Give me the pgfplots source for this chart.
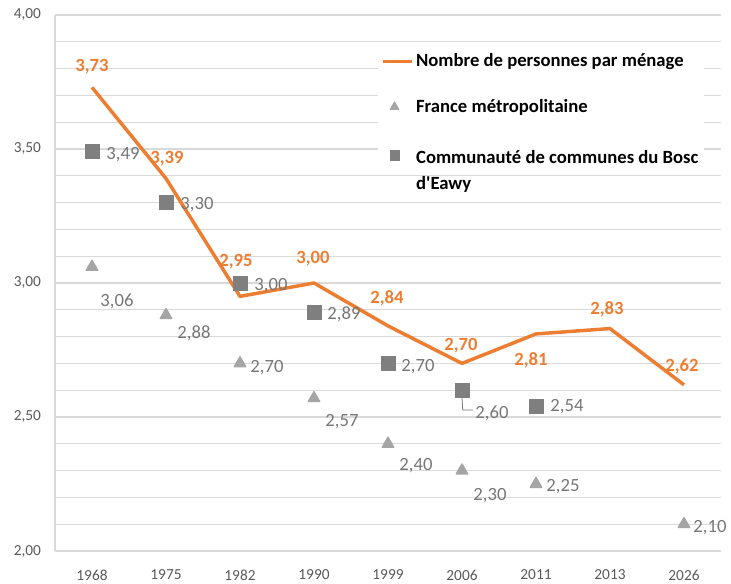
\documentclass[border=0pt]{standalone}
\usepackage{pgfplots}
\usepackage{pgfplotstable}
\pgfplotsset{compat=1.18}
\usepackage{fontspec}
\setmainfont{Carlito}[Ligatures=TeXOff]
\definecolor{orangeL}{HTML}{ED7D31}
\definecolor{sqGray}{HTML}{7F7F7F}
\definecolor{triGray}{HTML}{A5A5A5}
\definecolor{lblGray}{HTML}{767676}
\definecolor{tickc}{HTML}{595959}
\definecolor{gridc}{HTML}{D9D9D9}

\pgfplotstableread{
x y dx dy
0 3.73 0 21
1 3.39 1 20
2 2.95 -4 35
3 3.00 -1 24
4 2.84 -1 28
5 2.70 -1 18
6 2.81 -5 -26
7 2.83 -3 19
8 2.62 -2 18
}\menage

\pgfplotstableread{
x y dx dy
0 3.06 25 -34
1 2.88 28 -18
2 2.70 27 -4
3 2.57 28 -23
4 2.40 28 -22
5 2.30 28 -25
6 2.25 27 -3
8 2.10 26 -3
}\france

\pgfplotstableread{
x y dx dy
0 3.49 31 -3
1 3.30 31 -2
2 3.00 31 -3
3 2.89 30 -2
4 2.70 30 -3
5 2.60 30 -23
6 2.54 31 0
}\ccbe

\begin{document}
\begin{tikzpicture}
\useasboundingbox (0,0) rectangle (548.25pt,437.25pt);
\begin{axis}[
  at={(41.25pt,24pt)}, anchor=south west,
  scale only axis, width=499.5pt, height=402pt,
  xmin=-0.5, xmax=8.5, ymin=2, ymax=4,
  xtick={0,1,2,3,4,5,6,7,8},
  xticklabels={1968,1975,1982,1990,1999,2006,2011,2013,2026},
  ytick={2,2.5,3,3.5,4},
  minor ytick={2.1,2.2,2.3,2.4,2.6,2.7,2.8,2.9,3.1,3.2,3.3,3.4,3.6,3.7,3.8,3.9},
  ymajorgrids, yminorgrids,
  major grid style={draw=gridc, line width=0.8pt},
  minor grid style={draw=gridc, line width=0.8pt},
  axis x line*=bottom, axis y line*=left,
  axis line style={draw=gridc, line width=0.8pt, -},
  major tick length=0pt, minor tick length=0pt,
  tick style={draw=none},
  ticklabel style={font=\fontsize{11.5}{13}\selectfont, text=tickc},
  xticklabel style={yshift=-10.5pt},
  yticklabel style={xshift=-7pt},
  /pgf/number format/fixed,
  /pgf/number format/fixed zerofill,
  /pgf/number format/precision=2,
  /pgf/number format/use comma,
  /pgf/number format/assume math mode=true,
  legend style={at={(axis description cs:0.485,0.9384)}, anchor=north west,
    fill=white, draw=none, font=\bfseries\fontsize{14}{19.5}\selectfont,
    row sep=19pt, inner sep=2pt, column sep=0pt},
  legend cell align=left,
  clip=false,
]
\addplot[orangeL, line width=2.6pt, line join=round, no markers,
  point meta=y,
  nodes near coords,
  visualization depends on={\thisrow{dx} \as \dx},
  visualization depends on={\thisrow{dy} \as \dy},
  every node near coord/.append style={anchor=center, xshift={\dx*0.75pt}, yshift={\dy*0.75pt},
     font=\bfseries\fontsize{14}{16}\selectfont, text=orangeL},
  legend image code/.code={\draw[orangeL, line width=2.4pt] (0pt,0pt) -- (22pt,0pt);}
] table[x=x,y=y] {\menage};
\addlegendentry{Nombre de personnes par ménage}

\addplot[only marks, mark=triangle*, mark size=5pt, color=triGray,
  mark options={fill=triGray, draw=triGray, line join=round, line width=1pt},
  point meta=y,
  nodes near coords,
  visualization depends on={\thisrow{dx} \as \dx},
  visualization depends on={\thisrow{dy} \as \dy},
  every node near coord/.append style={anchor=center, xshift={\dx*0.75pt}, yshift={\dy*0.75pt},
     font=\fontsize{14}{16}\selectfont, text=lblGray},
  legend image code/.code={\draw[triGray, fill=triGray, line join=round, line width=0.8pt] plot[mark=triangle*, mark size=3.5pt] coordinates {(9pt,0pt)};}
] table[x=x,y=y] {\france};
\addlegendentry{France métropolitaine}

\addplot[only marks, mark=square*, mark size=5.25pt, color=sqGray,
  mark options={fill=sqGray, draw=sqGray},
  point meta=y,
  nodes near coords,
  visualization depends on={\thisrow{dx} \as \dx},
  visualization depends on={\thisrow{dy} \as \dy},
  every node near coord/.append style={anchor=center, xshift={\dx*0.75pt}, yshift={\dy*0.75pt},
     font=\fontsize{14}{16}\selectfont, text=lblGray},
  legend image code/.code={\draw[sqGray, fill=sqGray] plot[mark=square*, mark size=3.5pt] coordinates {(9pt,0pt)};}
] table[x=x,y=y] {\ccbe};
\addlegendentry{\begin{tabular}[t]{@{}l@{}}Communauté de communes du Bosc\\d'Eawy\end{tabular}}

\draw[lblGray, line width=0.6pt] (axis cs:5,2.571) -- (axis cs:5.01,2.526) -- (axis cs:5.15,2.526);
\end{axis}
\end{tikzpicture}
\end{document}
